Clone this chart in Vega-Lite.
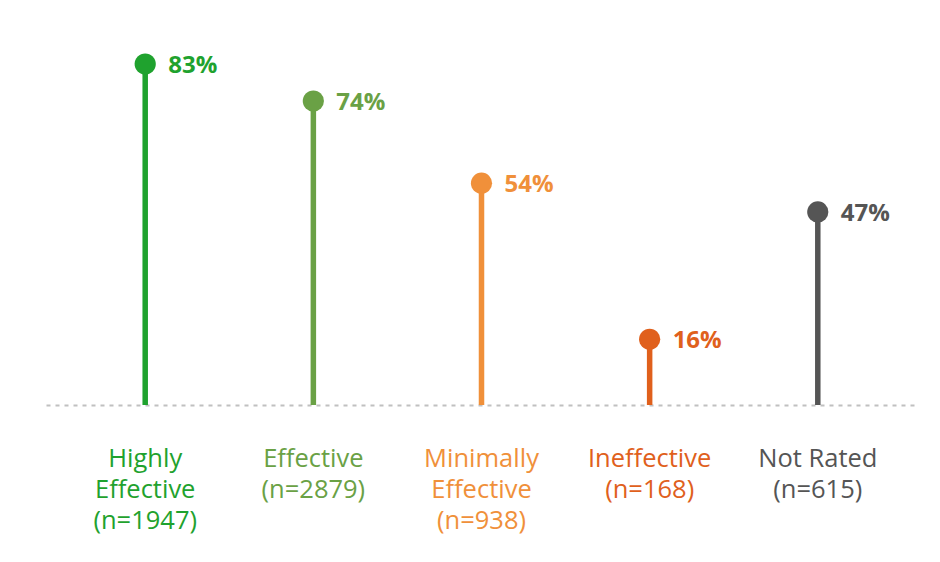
{
  "$schema": "https://vega.github.io/schema/vega-lite/v6.json",
  "width": 940,
  "height": 405,
  "autosize": "none",
  "padding": {"left": 0, "top": 0, "right": 0, "bottom": 157},
  "background": "white",
  "config": {"view": {"stroke": null}},
  "data": {
    "values": [
      {"category": "Highly Effective", "label": "Highly\nEffective\n(n=1947)", "share": 0.83},
      {"category": "Effective", "label": "Effective\n(n=2879)", "share": 0.74},
      {"category": "Minimally Effective", "label": "Minimally\nEffective\n(n=938)", "share": 0.54},
      {"category": "Ineffective", "label": "Ineffective\n(n=168)", "share": 0.16},
      {"category": "Not Rated", "label": "Not Rated\n(n=615)", "share": 0.47}
    ]
  },
  "encoding": {
    "x": {
      "field": "label",
      "type": "nominal",
      "sort": null,
      "scale": {"range": [46, 917], "paddingInner": 0, "paddingOuter": 0.09},
      "axis": {
        "title": null,
        "orient": "bottom",
        "ticks": false,
        "labelAngle": 0,
        "labelExpr": "split(datum.value, '\\n')",
        "labelFont": "Open Sans",
        "labelFontSize": 25.5,
        "labelLineHeight": 31,
        "labelBaseline": "top",
        "labelPadding": 41,
        "labelColor": {
          "condition": [
            {"test": "indexof(datum.value, '1947') >= 0", "value": "#1fa22e"},
            {"test": "indexof(datum.value, '2879') >= 0", "value": "#6aa145"},
            {"test": "indexof(datum.value, '938') >= 0", "value": "#f0903a"},
            {"test": "indexof(datum.value, '168') >= 0", "value": "#e0601c"}
          ],
          "value": "#555555"
        },
        "domainColor": "#c0c0c0",
        "domainWidth": 2,
        "domainDash": [4, 5],
        "zindex": 0
      }
    },
    "y": {
      "field": "share",
      "type": "quantitative",
      "scale": {"domain": [0, 0.986], "nice": false, "zero": true},
      "axis": null
    },
    "color": {
      "field": "category",
      "type": "nominal",
      "scale": {
        "domain": ["Highly Effective", "Effective", "Minimally Effective", "Ineffective", "Not Rated"],
        "range": ["#1fa22e", "#6aa145", "#f0903a", "#e0601c", "#555555"]
      },
      "legend": null
    }
  },
  "layer": [
    {
      "mark": {"type": "rule", "strokeWidth": 5.5},
      "encoding": {"y2": {"datum": 0}}
    },
    {
      "mark": {"type": "circle", "size": 450, "opacity": 1}
    },
    {
      "mark": {"type": "text", "align": "left", "baseline": "middle", "dx": 23, "dy": 2, "font": "Open Sans", "fontWeight": "bold", "fontSize": 24},
      "encoding": {"text": {"field": "share", "type": "quantitative", "format": ".0%"}}
    }
  ]
}
